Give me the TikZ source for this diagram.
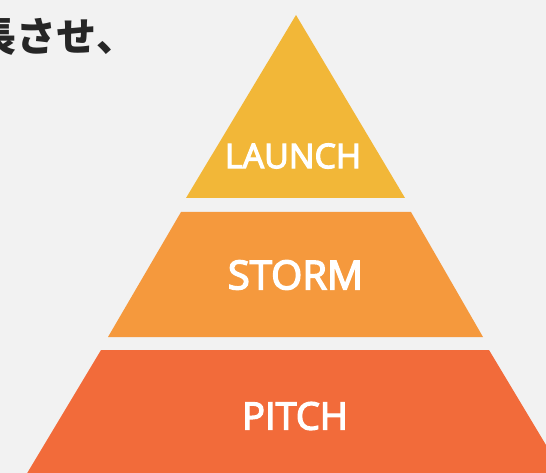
\documentclass[tikz,border=0pt]{standalone}
\usepackage{fontspec}
\setmainfont{Open Sans}
\newfontfamily\labelfont{Open Sans}[FakeBold=3.5]
\newfontfamily\jpfont{Noto Sans CJK JP}
\usepackage{xcolor}
\usetikzlibrary{positioning,calc}

\definecolor{bggray}{HTML}{F2F2F2}
\definecolor{launchc}{HTML}{F2B738}
\definecolor{stormc}{HTML}{F5993D}
\definecolor{pitchc}{HTML}{F26B3A}
\definecolor{inkc}{HTML}{262626}

\begin{document}
\begin{tikzpicture}[
    x=1pt, y=-1pt,
    tier/.style={draw=none},
    tierlabel/.style={text=white, inner sep=0pt},
    heading/.style={text=inkc, inner sep=0pt, anchor=base west, font=\jpfont\bfseries\fontsize{40}{44}\selectfont}
]

    % --- Canvas ---
    \fill[bggray] (0,0) rectangle (546,473);
    \useasboundingbox (0,0) rectangle (546,473);
    \clip (0,0) rectangle (546,473);

    % --- Heading (cut at the left edge) ---
    \node[heading] (title) at (-24,52) {長させ、};

    % --- Pyramid tiers ---
    \fill[tier, launchc] (296,15) -- (405,198) -- (186,198) -- cycle;
    \fill[tier, stormc] (181,212) -- (411,212) -- (483,337) -- (108,337) -- cycle;
    \fill[tier, pitchc] (101,350) -- (489,350) -- (567,480) -- (23,480) -- cycle;

    % --- Labels ---
    \node[tierlabel, font=\labelfont\fontsize{34}{40}\selectfont] (launch) at (293,156) {LAUNCH};
    \node[tierlabel, font=\labelfont\fontsize{40}{44}\selectfont] (storm) at (295.5,275) {STORM};
    \node[tierlabel, font=\labelfont\fontsize{38}{44}\selectfont] (pitch) at (295,416) {PITCH};

\end{tikzpicture}
\end{document}
